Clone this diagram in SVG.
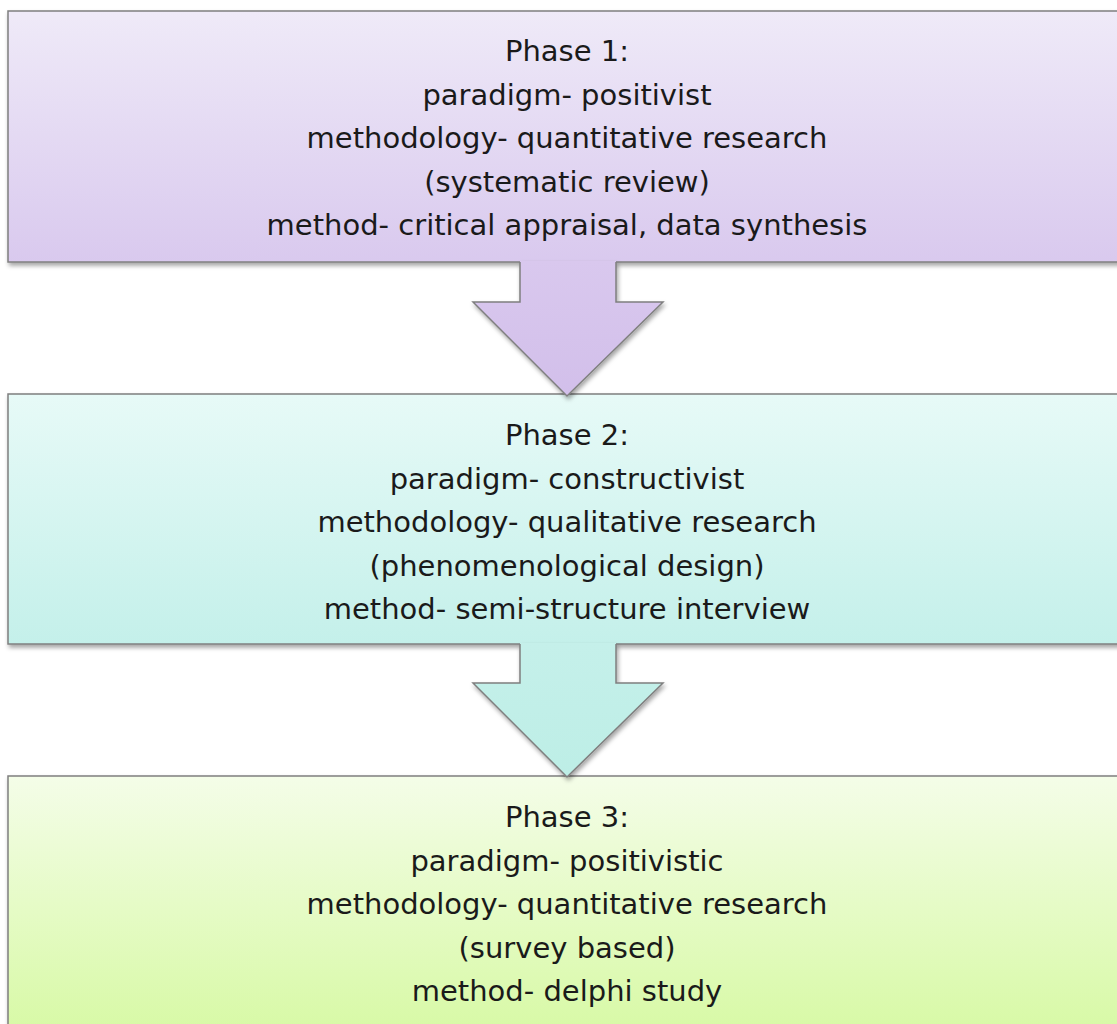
<svg xmlns="http://www.w3.org/2000/svg" width="1117" height="1024" viewBox="0 0 1117 1024">
<style>
  .box { stroke: #7f7f7f; stroke-width: 1.5; filter: url(#sh); }
  .lbl { font-family: "DejaVu Sans", Verdana, sans-serif; font-size: 29px; fill: #1a1a1a; text-anchor: middle; }
  .edge { fill: none; stroke: #7f7f7f; stroke-width: 1.5; }
</style>
<defs>
  <filter id="sh" x="-5%" y="-5%" width="110%" height="115%">
    <feDropShadow dx="1.5" dy="3" stdDeviation="2" flood-color="#000" flood-opacity="0.35"/>
  </filter>
  <linearGradient id="g1" x1="0" y1="0" x2="0" y2="1">
    <stop offset="0" stop-color="#efeaf8"/>
    <stop offset="1" stop-color="#d9c9ee"/>
  </linearGradient>
  <linearGradient id="g2" x1="0" y1="0" x2="0" y2="1">
    <stop offset="0" stop-color="#e7faf7"/>
    <stop offset="1" stop-color="#c4f0ea"/>
  </linearGradient>
  <linearGradient id="g3" x1="0" y1="0" x2="0" y2="1">
    <stop offset="0" stop-color="#f4fde8"/>
    <stop offset="1" stop-color="#d6f9a2"/>
  </linearGradient>
  <linearGradient id="ga1" x1="0" y1="0" x2="0" y2="1">
    <stop offset="0" stop-color="#d9c8ee"/>
    <stop offset="1" stop-color="#d2bfea"/>
  </linearGradient>
  <linearGradient id="ga2" x1="0" y1="0" x2="0" y2="1">
    <stop offset="0" stop-color="#c5f0ea"/>
    <stop offset="1" stop-color="#bdeee6"/>
  </linearGradient>
</defs>
<rect width="1117" height="1024" fill="#ffffff"/>

<g id="phase1">
  <rect class="box" x="8" y="11" width="1118" height="251" fill="url(#g1)"/>
  <text class="lbl" x="567" y="61">Phase 1:</text>
  <text class="lbl" x="567" y="104.5">paradigm- positivist</text>
  <text class="lbl" x="567" y="148">methodology- quantitative research</text>
  <text class="lbl" x="567" y="191.5">(systematic review)</text>
  <text class="lbl" x="567" y="235">method- critical appraisal, data synthesis</text>
</g>

<g id="phase2">
  <rect class="box" x="8" y="394" width="1118" height="250" fill="url(#g2)"/>
  <text class="lbl" x="567" y="445">Phase 2:</text>
  <text class="lbl" x="567" y="488.5">paradigm- constructivist</text>
  <text class="lbl" x="567" y="532">methodology- qualitative research</text>
  <text class="lbl" x="567" y="575.5">(phenomenological design)</text>
  <text class="lbl" x="567" y="619">method- semi-structure interview</text>
</g>

<g id="phase3">
  <rect class="box" x="8" y="776" width="1118" height="270" fill="url(#g3)"/>
  <text class="lbl" x="567" y="827">Phase 3:</text>
  <text class="lbl" x="567" y="870.5">paradigm- positivistic</text>
  <text class="lbl" x="567" y="914">methodology- quantitative research</text>
  <text class="lbl" x="567" y="957.5">(survey based)</text>
  <text class="lbl" x="567" y="1001">method- delphi study</text>
</g>

<g id="connectors">
  <g id="arrow1" filter="url(#sh)">
    <polygon points="520,261 616,261 616,302 663,302 567,396 473,302 520,302" fill="url(#ga1)"/>
    <polyline class="edge" points="520,262 520,302 473,302 567,396 663,302 616,302 616,262"/>
  </g>
  <g id="arrow2" filter="url(#sh)">
    <polygon points="520,643 616,643 616,683 663,683 567,777 473,683 520,683" fill="url(#ga2)"/>
    <polyline class="edge" points="520,644 520,683 473,683 567,777 663,683 616,683 616,644"/>
  </g>
</g>
</svg>
